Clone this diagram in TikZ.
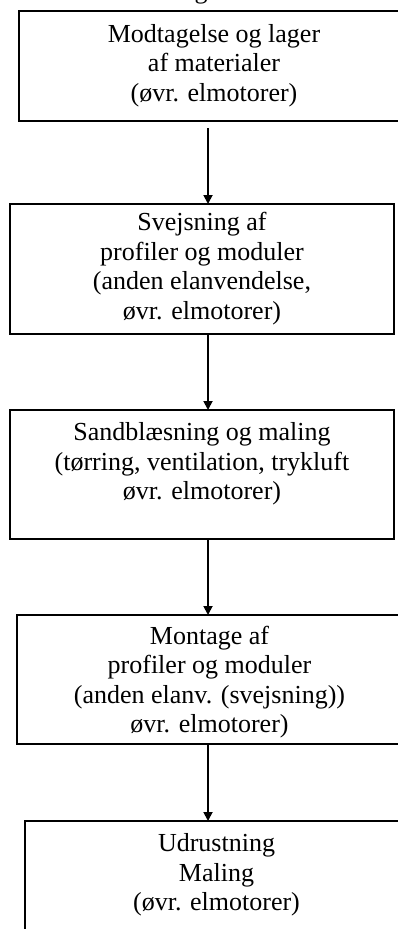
\documentclass[tikz,border=0pt]{standalone}
\usepackage{fontspec}
\setmainfont{Liberation Serif}
\usetikzlibrary{arrows.meta,positioning}

\begin{document}
\begin{tikzpicture}[x=1pt,y=1pt,
    stage/.style={draw, line width=1.8pt, anchor=north west, inner sep=0pt, outer sep=0pt},
    stagetext/.style={align=center, anchor=north, inner sep=0pt, font=\fontsize{26}{29.5}\selectfont},
    flow/.style={line width=1.8pt, ->},
    >={Triangle[length=9pt,width=9pt]}]
            % Page frame, the boxes run off the right and bottom edges
            \path[use as bounding box, clip] (0,0) rectangle (398,-929);

            % Tail of the heading above
            \node[stagetext, anchor=base] (head) at (201,1.7) {g};

            % Boxes
            \node[stage, minimum width=390pt, minimum height=110pt] (recv) at (19,-11) {};
            \node[stage, minimum width=384pt, minimum height=130pt] (weld) at (10,-204) {};
            \node[stage, minimum width=384pt, minimum height=129pt] (blast) at (10,-410) {};
            \node[stage, minimum width=385pt, minimum height=129pt] (mount) at (17,-615) {};
            \node[stage, minimum width=383pt, minimum height=140pt] (equip) at (25,-821) {};

            % Texts
            \node[stagetext, below=13pt of recv.north] (recvtext) {Modtagelse og lager\\af materialer\\(øvr. elmotorer)};
            \node[stagetext, below=8.4pt of weld.north] (weldtext) {Svejsning af\\profiler og moduler\\(anden elanvendelse,\\øvr. elmotorer)};
            \node[stagetext, below=12.4pt of blast.north] (blasttext) {Sandblæsning og maling\\(tørring, ventilation, trykluft\\øvr. elmotorer)};
            \node[stagetext, below=10.8pt of mount.north] (mounttext) {Montage af\\profiler og moduler\\(anden elanv. (svejsning))\\øvr. elmotorer)};
            \node[stagetext, below=12.7pt of equip.north] (equiptext) {Udrustning\\Maling\\(øvr. elmotorer)};

            % Main flow
            \coordinate (spine) at (208,0);
            \draw[flow, shorten <=7pt] (recv.south -| spine) -- (weld.north -| spine);
            \draw[flow] (weld.south -| spine) -- (blast.north -| spine);
            \draw[flow] (blast.south -| spine) -- (mount.north -| spine);
            \draw[flow] (mount.south -| spine) -- (equip.north -| spine);
\end{tikzpicture}
\end{document}
